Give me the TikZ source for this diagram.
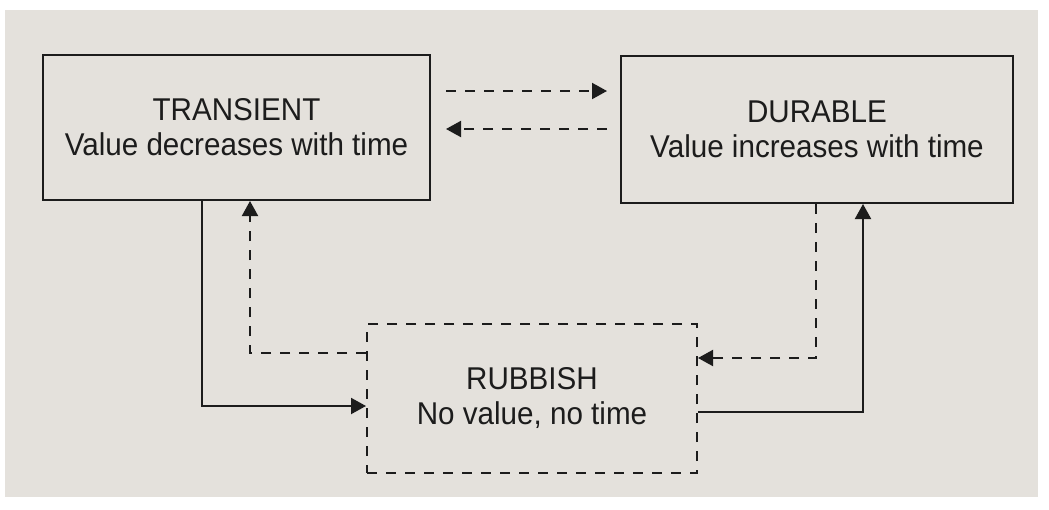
\documentclass[tikz,border=0pt]{standalone}
\usepackage{fontspec}
\setmainfont{Liberation Sans}
\newfontfamily\diagfont{Liberation Sans}[FakeStretch=0.94]
\usetikzlibrary{arrows.meta}
\definecolor{page}{RGB}{228,225,220}
\definecolor{ink}{RGB}{28,28,28}
\tikzset{
  box/.style={draw=ink, line width=2pt, minimum width=#1, align=center, text=ink,
    font=\diagfont\fontsize{31.5}{35}\selectfont, inner sep=0pt},
  solidbox/.style={box=#1},
  dashbox/.style={box=#1, dash pattern=on 10pt off 9pt},
  sconn/.style={draw=ink, line width=2pt, -{Triangle[length=15pt,width=16pt]}},
  dconn/.style={sconn, dash pattern=on 10pt off 9pt},
}
\begin{document}
\begin{tikzpicture}[x=1pt,y=-1pt]
\useasboundingbox (0,0) rectangle (1049,509);
\fill[white] (0,0) rectangle (1049,509);
\fill[page] (5,10) rectangle (1038,497);

\node[solidbox=387pt, minimum height=145pt] (T) at (236.5,127.5) {TRANSIENT\\Value decreases with time};
\node[solidbox=392pt, minimum height=147pt] (D) at (817,129.5) {DURABLE\\Value increases with time};
\node[dashbox=330pt, minimum height=149pt] (R) at (532,398.5) {RUBBISH\\No value, no time};

\draw[dconn] ([shift={(15,-36.5)}]T.east) -- ([shift={(-13,-38.5)}]D.west);
\draw[dconn] ([shift={(-13,-0.5)}]D.west) -- ([shift={(15,1.5)}]T.east);

\draw[sconn] ([shift={(-34.5,0)}]T.south) |- ([shift={(0,7.5)}]R.west);
\draw[dconn] ([shift={(0,-45.5)}]R.west) -| ([shift={(13.5,0)}]T.south);

\draw[dconn] ([shift={(-1,0)}]D.south) |- ([shift={(0,-40.5)}]R.east);
\draw[sconn] ([shift={(0,13.5)}]R.east) -| ([shift={(46,0)}]D.south);
\end{tikzpicture}
\end{document}
